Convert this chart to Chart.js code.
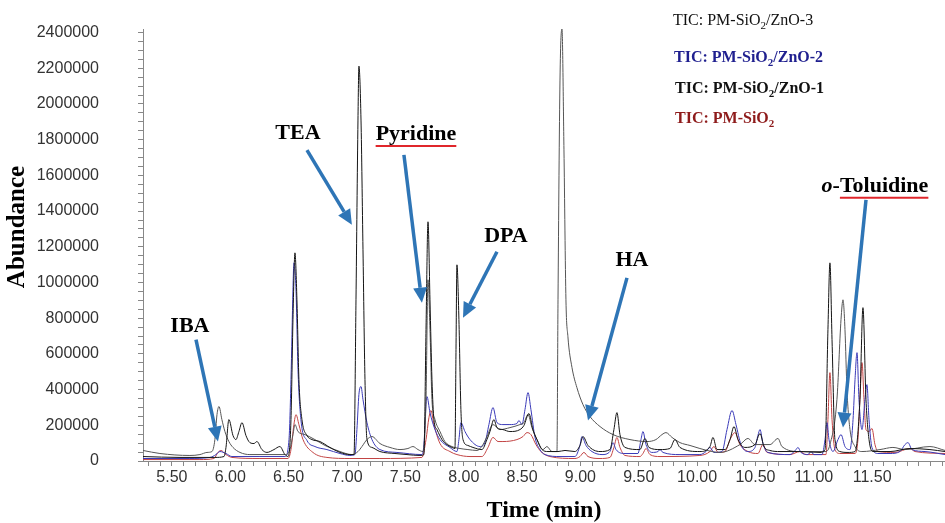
<!DOCTYPE html>
<html>
<head>
<meta charset="utf-8">
<script src="https://cdn.jsdelivr.net/npm/chart.js@4.4.0/dist/chart.umd.min.js"></script>
<style>
  html, body { margin: 0; padding: 0; background: #fff; }
</style>
</head>
<body>
<canvas id="tic" width="945" height="523"></canvas>
<script>
// --- data (time in min, abundance in counts) ---
var timeTicks = [5.5, 6.0, 6.5, 7.0, 7.5, 8.0, 8.5, 9.0, 9.5, 10.0, 10.5, 11.0, 11.5];
var abundanceTicks = [0, 200000, 400000, 600000, 800000, 1000000, 1200000, 1400000,
  1600000, 1800000, 2000000, 2200000, 2400000];

var seriesNames = ['PM-SiO2/ZnO-1', 'PM-SiO2/ZnO-3', 'PM-SiO2/ZnO-2', 'PM-SiO2'];

// PM-SiO2/ZnO-1 (black)
var timeZnO1 = [5.252, 5.569, 5.868, 5.946, 5.963, 5.988, 6.023, 6.048, 6.074, 6.100, 6.134, 6.168, 6.203, 6.228,
  6.271, 6.314, 6.374, 6.425, 6.468, 6.494, 6.520, 6.537, 6.554, 6.571, 6.588, 6.614, 6.657, 6.700, 6.768,
  6.854, 6.940, 7.025, 7.060, 7.077, 7.094, 7.102, 7.120, 7.137, 7.154, 7.171, 7.214, 7.282, 7.411, 7.514,
  7.625, 7.659, 7.677, 7.694, 7.711, 7.728, 7.745, 7.771, 7.814, 7.856, 7.899, 7.925, 7.934, 7.942, 7.959,
  7.976, 7.994, 8.036, 8.079, 8.156, 8.199, 8.225, 8.259, 8.285, 8.336, 8.396, 8.482, 8.516, 8.559, 8.593,
  8.628, 8.671, 8.722, 8.808, 8.868, 8.953, 8.996, 9.022, 9.065, 9.168, 9.253, 9.287, 9.313, 9.339, 9.382,
  9.510, 9.553, 9.587, 9.682, 9.767, 9.810, 9.853, 10.024, 10.110, 10.136, 10.170, 10.239, 10.282, 10.316,
  10.350, 10.410, 10.496, 10.539, 10.573, 10.624, 10.710, 10.881, 11.053, 11.096, 11.121, 11.138, 11.156,
  11.181, 11.224, 11.293, 11.353, 11.395, 11.421, 11.447, 11.473, 11.507, 11.653, 11.824, 11.995, 12.124];
var abundZnO1 = [25000, 20000, 20000, 25000, 76000, 232000, 143000, 120000, 165000, 215000, 143000, 103000, 98000, 109000,
  64000, 48000, 64000, 81000, 36000, 25000, 232000, 792000, 1166000, 903000, 456000, 232000, 143000, 120000, 109000,
  76000, 48000, 36000, 36000, 903000, 1910000, 2212000, 1910000, 1183000, 456000, 120000, 76000, 53000, 42000, 36000,
  31000, 36000, 736000, 1340000, 903000, 456000, 232000, 176000, 120000, 92000, 76000, 70000, 624000, 1099000, 792000,
  288000, 120000, 87000, 76000, 64000, 120000, 165000, 232000, 187000, 176000, 165000, 176000, 199000, 266000, 176000,
  120000, 64000, 53000, 53000, 59000, 53000, 87000, 137000, 87000, 53000, 64000, 176000, 271000, 148000, 76000,
  64000, 126000, 76000, 64000, 70000, 120000, 76000, 53000, 81000, 132000, 64000, 64000, 120000, 193000,
  120000, 76000, 92000, 154000, 81000, 59000, 53000, 53000, 48000, 64000, 736000, 1110000, 680000,
  120000, 53000, 48000, 53000, 344000, 859000, 344000, 120000, 53000, 53000, 70000, 64000, 53000];

// PM-SiO2/ZnO-3 (grey)
var timeZnO3 = [5.252, 5.397, 5.654, 5.740, 5.800, 5.843, 5.868, 5.886, 5.903, 5.928, 5.954, 5.988, 6.023, 6.083,
  6.168, 6.340, 6.468, 6.511, 6.537, 6.554, 6.580, 6.640, 6.725, 6.811, 6.940, 7.042, 7.094, 7.128, 7.171, 7.214,
  7.282, 7.368, 7.454, 7.522, 7.565, 7.608, 7.651, 7.677, 7.694, 7.711, 7.728, 7.754, 7.797, 7.839, 7.899, 7.968,
  8.036, 8.114, 8.165, 8.199, 8.251, 8.311, 8.396, 8.482, 8.516, 8.551, 8.585, 8.628, 8.679, 8.713, 8.756, 8.799,
  8.808, 8.825, 8.842, 8.859, 8.876, 8.893, 8.928, 8.970, 9.022, 9.082, 9.168, 9.279, 9.425, 9.570, 9.647, 9.699,
  9.733, 9.785, 9.853, 9.939, 10.024, 10.127, 10.196, 10.367, 10.436, 10.496, 10.624, 10.693, 10.727, 10.881,
  11.104, 11.138, 11.198, 11.233, 11.250, 11.267, 11.284, 11.310, 11.353, 11.413, 11.567, 11.678, 11.781, 11.995,
  12.124];
var abundZnO3 = [59000, 42000, 31000, 36000, 48000, 53000, 120000, 260000, 305000, 232000, 165000, 109000, 76000, 48000,
  36000, 36000, 36000, 64000, 148000, 204000, 165000, 148000, 120000, 87000, 53000, 36000, 53000, 81000, 120000, 137000,
  98000, 76000, 64000, 70000, 81000, 64000, 53000, 344000, 1015000, 736000, 344000, 232000, 165000, 109000, 81000, 70000,
  64000, 59000, 92000, 137000, 204000, 176000, 187000, 204000, 215000, 260000, 187000, 120000, 64000, 81000, 53000, 53000,
  903000, 2134000, 2420000, 1743000, 903000, 696000, 523000, 411000, 316000, 249000, 193000, 148000, 120000, 109000, 120000, 148000,
  159000, 132000, 103000, 87000, 70000, 53000, 48000, 92000, 126000, 92000, 92000, 126000, 81000, 53000,
  53000, 92000, 344000, 792000, 903000, 736000, 400000, 176000, 81000, 53000, 64000, 76000, 64000, 81000,
  59000];

// PM-SiO2/ZnO-2 (blue)
var timeZnO2 = [5.252, 5.654, 5.826, 5.877, 5.911, 5.963, 6.014, 6.254, 6.468, 6.503, 6.520, 6.537, 6.545, 6.563,
  6.580, 6.605, 6.657, 6.725, 6.828, 6.940, 7.025, 7.068, 7.085, 7.102, 7.120, 7.137, 7.171, 7.214, 7.282, 7.428,
  7.642, 7.659, 7.677, 7.685, 7.711, 7.754, 7.797, 7.882, 7.942, 7.959, 7.976, 8.011, 8.054, 8.139, 8.182, 8.216,
  8.251, 8.285, 8.336, 8.396, 8.456, 8.473, 8.499, 8.525, 8.551, 8.576, 8.611, 8.653, 8.696, 8.825, 8.953, 8.996,
  9.013, 9.048, 9.099, 9.185, 9.253, 9.279, 9.305, 9.382, 9.493, 9.519, 9.536, 9.562, 9.613, 9.665, 9.682, 9.707,
  9.853, 10.024, 10.076, 10.110, 10.144, 10.213, 10.256, 10.299, 10.333, 10.376, 10.436, 10.496, 10.521, 10.539,
  10.564, 10.607, 10.796, 10.847, 10.864, 10.890, 10.950, 10.976, 11.001, 11.070, 11.096, 11.113, 11.130, 11.164,
  11.207, 11.233, 11.267, 11.310, 11.336, 11.353, 11.370, 11.387, 11.413, 11.438, 11.455, 11.473, 11.498, 11.550,
  11.653, 11.738, 11.781, 11.807, 11.841, 11.953, 12.124];
var abundZnO2 = [14000, 14000, 20000, 36000, 53000, 42000, 25000, 25000, 25000, 120000, 456000, 959000, 1110000, 959000,
  512000, 232000, 115000, 81000, 64000, 42000, 31000, 36000, 176000, 372000, 417000, 344000, 215000, 120000, 64000, 48000,
  36000, 92000, 316000, 361000, 271000, 176000, 120000, 76000, 53000, 120000, 215000, 165000, 120000, 81000, 103000, 204000,
  299000, 215000, 204000, 204000, 210000, 227000, 204000, 288000, 383000, 288000, 132000, 64000, 36000, 25000, 25000, 87000,
  137000, 87000, 53000, 36000, 53000, 103000, 64000, 42000, 42000, 120000, 165000, 92000, 48000, 53000, 64000, 48000,
  36000, 36000, 53000, 76000, 48000, 53000, 176000, 283000, 204000, 92000, 53000, 76000, 143000, 176000,
  98000, 48000, 36000, 64000, 76000, 48000, 36000, 53000, 36000, 36000, 120000, 215000, 120000, 53000,
  120000, 148000, 81000, 64000, 232000, 456000, 607000, 344000, 176000, 344000, 428000, 232000, 76000, 42000,
  42000, 53000, 92000, 103000, 64000, 53000, 36000];

// PM-SiO2 (red)
var timeSiO2 = [5.252, 5.740, 5.860, 5.894, 5.920, 5.963, 6.014, 6.254, 6.494, 6.520, 6.545, 6.563, 6.588, 6.623,
  6.708, 6.828, 7.025, 7.282, 7.642, 7.677, 7.702, 7.719, 7.745, 7.797, 7.882, 7.942, 8.054, 8.156, 8.208, 8.251,
  8.294, 8.336, 8.456, 8.508, 8.542, 8.576, 8.619, 8.662, 8.739, 8.953, 8.996, 9.030, 9.065, 9.168, 9.253, 9.287,
  9.313, 9.339, 9.382, 9.510, 9.536, 9.562, 9.596, 9.682, 10.024, 10.110, 10.144, 10.179, 10.239, 10.282, 10.324,
  10.367, 10.436, 10.521, 10.564, 10.599, 10.796, 10.881, 10.933, 11.104, 11.121, 11.138, 11.156, 11.181, 11.224,
  11.353, 11.378, 11.395, 11.413, 11.430, 11.447, 11.473, 11.498, 11.524, 11.550, 11.695, 11.824, 11.867, 12.124];
var abundSiO2 = [8000, 8000, 14000, 48000, 59000, 36000, 20000, 14000, 14000, 64000, 204000, 260000, 204000, 120000,
  48000, 20000, 14000, 14000, 20000, 120000, 243000, 283000, 204000, 98000, 53000, 36000, 25000, 25000, 76000, 132000,
  109000, 109000, 120000, 137000, 159000, 148000, 92000, 53000, 25000, 14000, 25000, 48000, 25000, 14000, 20000, 76000,
  132000, 76000, 31000, 25000, 42000, 70000, 36000, 25000, 31000, 53000, 81000, 48000, 53000, 120000, 159000,
  92000, 53000, 42000, 92000, 48000, 36000, 53000, 36000, 36000, 232000, 495000, 232000, 64000, 42000,
  42000, 120000, 344000, 551000, 344000, 176000, 165000, 182000, 92000, 53000, 48000, 70000, 53000, 42000];

// compound call-outs: label anchor and arrow, in (time, abundance)
var notes = [
  { parts: [{ text: 'IBA' }], at: [5.654, 724000], from: [5.706, 680000], to: [5.894, 109000] },
  { parts: [{ text: 'TEA' }], at: [6.580, 1804000], from: [6.657, 1742000], to: [7.042, 1323000] },
  { parts: [{ text: 'Pyridine', underline: true }], at: [7.591, 1798000], from: [7.488, 1715000], to: [7.642, 887000] },
  { parts: [{ text: 'DPA' }], at: [8.362, 1226000], from: [8.285, 1172000], to: [7.994, 803000] },
  { parts: [{ text: 'HA' }], at: [9.442, 1094000], from: [9.399, 1026000], to: [9.065, 227000] },
  { parts: [{ text: 'o', italic: true }, { text: '-' }, { text: 'Toluidine', underline: true }],
    at: [11.524, 1508000], from: [11.447, 1463000], to: [11.250, 187000] }
];

function pts(xs, ys) {
  var out = [];
  for (var i = 0; i < xs.length; i++) out.push({ x: xs[i], y: ys[i] });
  return out;
}

var SERIF = "'Liberation Serif', 'Times New Roman', serif";
var SANS = "'Liberation Sans', Arial, sans-serif";

function drawArrow(ctx, x1, y1, x2, y2) {
  var ang = Math.atan2(y2 - y1, x2 - x1);
  var headLen = 15, headW = 7;
  var bx = x2 - headLen * Math.cos(ang), by = y2 - headLen * Math.sin(ang);
  ctx.strokeStyle = '#2e75b6';
  ctx.fillStyle = '#2e75b6';
  ctx.lineWidth = 3.5;
  ctx.beginPath();
  ctx.moveTo(x1, y1);
  ctx.lineTo(bx, by);
  ctx.stroke();
  ctx.beginPath();
  ctx.moveTo(x2, y2);
  ctx.lineTo(bx + headW * Math.sin(ang), by - headW * Math.cos(ang));
  ctx.lineTo(bx - headW * Math.sin(ang), by + headW * Math.cos(ang));
  ctx.closePath();
  ctx.fill();
}

// "TIC: PM-SiO2..." with the 2 set as subscript
function drawTic(ctx, x, y, name, weight, color) {
  var size = 16;
  var m = name.match(/^(.*SiO)2(.*)$/);
  var pieces = m ? [['TIC: ' + m[1], false], ['2', true], [m[2], false]] : [['TIC: ' + name, false]];
  ctx.fillStyle = color;
  ctx.textBaseline = 'alphabetic';
  ctx.textAlign = 'left';
  pieces.forEach(function (p) {
    if (!p[0]) return;
    ctx.font = weight + ' ' + (p[1] ? 11 : size) + 'px ' + SERIF;
    ctx.fillText(p[0], x, y + (p[1] ? 4 : 0));
    x += ctx.measureText(p[0]).width;
  });
}

var calloutPlugin = {
  id: 'callouts',
  afterDatasetsDraw: function (chart) {
    var ctx = chart.ctx, xs = chart.scales.x, ys = chart.scales.y;
    ctx.save();
    notes.forEach(function (n) {
      drawArrow(ctx, xs.getPixelForValue(n.from[0]), ys.getPixelForValue(n.from[1]),
        xs.getPixelForValue(n.to[0]), ys.getPixelForValue(n.to[1]));
    });
    notes.forEach(function (n) {
      var fonts = n.parts.map(function (p) {
        return (p.italic ? 'italic ' : '') + 'bold 22px ' + SERIF;
      });
      var total = 0;
      n.parts.forEach(function (p, i) { ctx.font = fonts[i]; total += ctx.measureText(p.text).width; });
      var x = xs.getPixelForValue(n.at[0]) - total / 2;
      var y = ys.getPixelForValue(n.at[1]);
      ctx.textAlign = 'left';
      ctx.textBaseline = 'alphabetic';
      n.parts.forEach(function (p, i) {
        ctx.font = fonts[i];
        var w = ctx.measureText(p.text).width;
        ctx.fillStyle = '#000';
        ctx.fillText(p.text, x, y);
        if (p.underline) {
          ctx.strokeStyle = '#e0262b';
          ctx.lineWidth = 2;
          ctx.beginPath();
          ctx.moveTo(x, y + 6);
          ctx.lineTo(x + w, y + 6);
          ctx.stroke();
        }
        x += w;
      });
    });

    // axis titles
    ctx.fillStyle = '#000';
    ctx.font = 'bold 24px ' + SERIF;
    ctx.textAlign = 'center';
    ctx.textBaseline = 'middle';
    ctx.fillText('Time (min)', (chart.chartArea.left + chart.chartArea.right) / 2, 511);
    ctx.save();
    ctx.translate(18, 227);
    ctx.rotate(-Math.PI / 2);
    ctx.font = 'bold 25px ' + SERIF;
    ctx.fillText('Abundance', 0, 0);
    ctx.restore();

    // legend block, top right
    drawTic(ctx, 673, 25, 'PM-SiO2/ZnO-3', 'normal', '#111');
    drawTic(ctx, 674, 62, 'PM-SiO2/ZnO-2', 'bold', '#1f1f8f');
    drawTic(ctx, 675, 93, 'PM-SiO2/ZnO-1', 'bold', '#111');
    drawTic(ctx, 675, 123, 'PM-SiO2', 'bold', '#8e1b1b');
    ctx.restore();
  }
};

var lineStyle = { borderWidth: 1, pointRadius: 0, fill: false, cubicInterpolationMode: 'monotone' };

new Chart(document.getElementById('tic'), {
  type: 'line',
  data: {
    datasets: [
      Object.assign({ label: seriesNames[0], data: pts(timeZnO1, abundZnO1), borderColor: '#151515' }, lineStyle),
      Object.assign({ label: seriesNames[1], data: pts(timeZnO3, abundZnO3), borderColor: '#555555' }, lineStyle),
      Object.assign({ label: seriesNames[2], data: pts(timeZnO2, abundZnO2), borderColor: '#3a3ab8' }, lineStyle),
      Object.assign({ label: seriesNames[3], data: pts(timeSiO2, abundSiO2), borderColor: '#c24444' }, lineStyle)
    ]
  },
  options: {
    responsive: false,
    animation: false,
    layout: { padding: { top: 29, right: 0, left: 0, bottom: 0 } },
    plugins: { legend: { display: false }, tooltip: { enabled: false } },
    scales: {
      x: {
        type: 'linear',
        min: 5.252,
        max: 12.124,
        border: { display: true, color: '#888', width: 1 },
        grid: { display: true, drawOnChartArea: false, drawTicks: true, tickLength: 5, color: '#888' },
        afterBuildTicks: function (scale) {
          var t = [];
          for (var i = 53; i <= 121; i++) t.push({ value: i / 10 });
          scale.ticks = t;
        },
        afterFit: function (scale) {
          scale.height = 62;
          scale.paddingLeft = 0;
          scale.paddingRight = 0;
        },
        ticks: {
          autoSkip: false,
          maxRotation: 0,
          padding: 2,
          color: '#333',
          font: { family: SANS, size: 16 },
          callback: function (v) {
            var r = Math.round(v * 100) / 100;
            return timeTicks.indexOf(r) >= 0 ? r.toFixed(2) : '';
          }
        }
      },
      y: {
        type: 'linear',
        min: 0,
        max: 2420000,
        border: { display: true, color: '#888', width: 1 },
        grid: { display: true, drawOnChartArea: false, drawTicks: true, tickLength: 5, color: '#888' },
        afterBuildTicks: function (scale) {
          var t = [];
          for (var i = 0; i <= 48; i++) t.push({ value: i * 50000 });
          scale.ticks = t;
        },
        afterFit: function (scale) {
          scale.width = 143;
          scale.paddingTop = 0;
          scale.paddingBottom = 0;
        },
        ticks: {
          autoSkip: false,
          padding: 39,
          color: '#333',
          font: { family: SANS, size: 16 },
          callback: function (v) {
            return abundanceTicks.indexOf(v) >= 0 ? String(v) : '';
          }
        }
      }
    }
  },
  plugins: [calloutPlugin]
});
</script>
</body>
</html>
